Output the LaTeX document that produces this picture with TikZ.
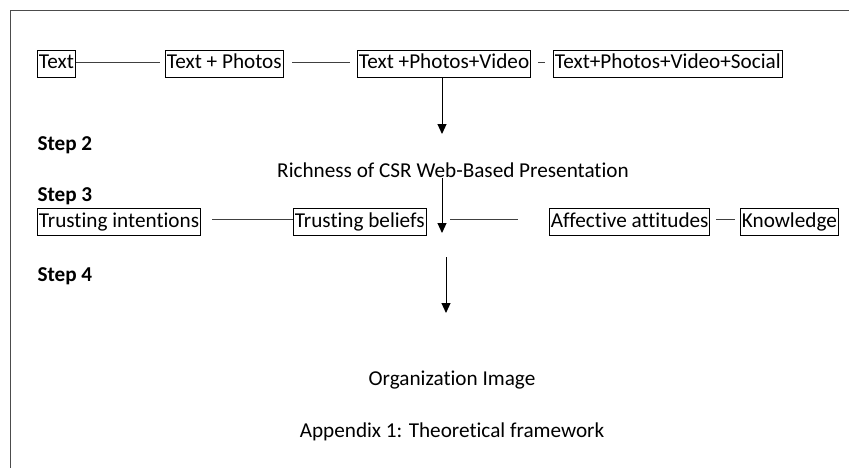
\documentclass[tikz,border=0pt]{standalone}
\usepackage{fontspec}
\setmainfont[Ligatures=NoCommon]{Carlito}
\usetikzlibrary{arrows.meta,positioning}

\begin{document}
\begin{tikzpicture}[x=0.5pt,y=-0.5pt,font=\fontsize{10.6}{12}\selectfont,
  line width=0.5pt,
  box/.style={draw,anchor=west,inner xsep=0.7pt,inner ysep=0.4pt,text height=8pt,text depth=2.6pt,minimum height=13.5pt},
  plain/.style={inner sep=0pt},
  steplbl/.style={plain,anchor=west,font=\fontsize{10.6}{12}\selectfont\bfseries},
  link/.style={draw=black!75},
  flow/.style={-{Triangle[length=5pt,width=4.5pt]}}]
  \useasboundingbox (0,0) rectangle (849,468);
  % frame
  \draw[black!70] (849,10) -- (10,10) -- (10,468);
  % ---- Step 1: presentation formats
  \node[box] (txt) at (37,63.5) {Text};
  \node[box] (txtph) at (165,63.5) {Text + Photos};
  \node[box] (txtvid) at (357,63.5) {Text +Photos+Video};
  \node[box] (txtsoc) at (553,63.5) {Text+Photos+Video+Social};
  \draw[link] (txt.east |- 0,62) -- (160,62) coordinate (l1);
  \draw[link] (292,62) coordinate (l2) -- (350,62) coordinate (l3);
  \draw[link] (538,62) coordinate (l4) -- (545,62) coordinate (l5);
  % ---- Step 2
  \foreach \n/\y in {2/145,3/196,4/276}
    \node[steplbl] (step\n) at (37,\y) {Step \n};
  \node[plain] (rich) at (453,170) {Richness of CSR Web-Based Presentation};
  \coordinate (a1) at (442,134);
  \draw[flow] (txtvid.south -| a1) -- (a1);
  % ---- Step 3: trust components
  \node[box] (tint) at (37,222) {Trusting intentions};
  \node[box] (tbel) at (293,222) {Trusting beliefs};
  \node[box] (aff) at (549,222) {Affective attitudes};
  \node[box] (know) at (740,222) {Knowledge};
  \coordinate (a2) at (442,233);
  \draw[flow] (rich.south -| a2) -- (a2);
  \draw[link] (212,219) coordinate (l6) -- (tbel.west |- l6);
  \draw[link] (450,219) coordinate (l7) -- (518,219) coordinate (l8);
  \draw[link] (aff.east |- l8) ++(6,0) coordinate (l9) -- (735,219) coordinate (l10);
  % ---- Step 4: outcome
  \node[plain] (orgimg) at (452,380) {Organization Image};
  \coordinate (a3s) at (446,257);
  \coordinate (a3) at (446,313);
  \draw[flow] (a3s) -- (a3);
  \node[plain] (caption) at (452,432) {Appendix 1: Theoretical framework};
\end{tikzpicture}
\end{document}
